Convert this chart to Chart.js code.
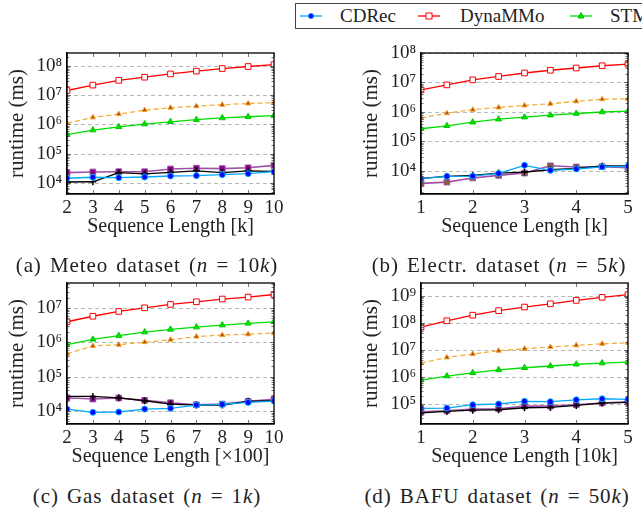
<!DOCTYPE html>
<html>
<head>
<meta charset="utf-8">
<script src="https://cdn.jsdelivr.net/npm/chart.js@4"></script>
<style>
  html, body { margin: 0; padding: 0; background: #fff; }
  body { width: 642px; height: 515px; position: relative; overflow: hidden;
         font-family: 'Liberation Serif', serif; color: #222; }
  .panel { position: absolute; width: 288px; height: 200px; }
  .caption { position: absolute; font-size: 21px; letter-spacing: 0.9px; word-spacing: 2px;
             white-space: nowrap; transform: translateX(-50%); }
  #legend { position: absolute; left: 295px; top: 3px; width: 420px; height: 24px;
            border: 1.5px solid #444; }
  .lg { position: absolute; top: 1px; font-size: 19px; white-space: nowrap; }
  .lgs { position: absolute; top: 6px; }
</style>
</head>
<body>
<div id="legend">
  <svg class="lgs" style="left:4px" width="22" height="12"><line x1="0" y1="6" x2="22" y2="6" stroke="#00a8ff" stroke-width="1.3"/><circle cx="11" cy="6" r="2.6" fill="#0000ff" stroke="#00a8ff"/></svg>
  <span class="lg" style="left:44px">CDRec</span>
  <svg class="lgs" style="left:122px" width="22" height="12"><line x1="0" y1="6" x2="22" y2="6" stroke="#ff0000" stroke-width="1.3"/><rect x="8" y="3" width="6" height="6" fill="#fff" stroke="#ff0000"/></svg>
  <span class="lg" style="left:164px">DynaMMo</span>
  <svg class="lgs" style="left:274px" width="22" height="12"><line x1="0" y1="6" x2="22" y2="6" stroke="#00e000" stroke-width="1.3"/><polygon points="11,2.5 14,8 8,8" fill="#00e000" stroke="#00c000"/></svg>
  <span class="lg" style="left:314px">STMVL</span>
</div>

<div class="panel" style="left:0px; top:40px"><canvas id="meteo"></canvas></div>
<div class="panel" style="left:354px; top:40px"><canvas id="electr"></canvas></div>
<div class="panel" style="left:0px; top:270px"><canvas id="gas"></canvas></div>
<div class="panel" style="left:354px; top:270px"><canvas id="bafu"></canvas></div>

<div class="caption" style="left:147px; top:253px">(a) Meteo dataset (<i>n</i> = 10<i>k</i>)</div>
<div class="caption" style="left:499px; top:253px">(b) Electr. dataset (<i>n</i> = 5<i>k</i>)</div>
<div class="caption" style="left:147px; top:484px">(c) Gas dataset (<i>n</i> = 1<i>k</i>)</div>
<div class="caption" style="left:497px; top:484px">(d) BAFU dataset (<i>n</i> = 50<i>k</i>)</div>

<script>
// x values (sequence length)
const meteoX = [2, 3, 4, 5, 6, 7, 8, 9, 10];
const electrX = [1, 1.5, 2, 2.5, 3, 3.5, 4, 4.5, 5];
const gasX = [2, 3, 4, 5, 6, 7, 8, 9, 10];
const bafuX = [1, 1.5, 2, 2.5, 3, 3.5, 4, 4.5, 5];

// runtime in ms
const meteoCDRec = [1.45e4, 1.57e4, 1.52e4, 1.6e4, 1.73e4, 1.78e4, 1.92e4, 2.08e4, 2.43e4];
const meteoDynaMMo = [1.44e7, 2.2e7, 3.2e7, 4.1e7, 5.3e7, 6.6e7, 8.1e7, 9.5e7, 1.1e8];
const meteoSTMVL = [4.5e5, 6.4e5, 8.3e5, 1.03e6, 1.23e6, 1.45e6, 1.66e6, 1.83e6, 2.0e6];
const meteoOrange = [1.11e6, 1.74e6, 2.25e6, 3.1e6, 3.7e6, 4.2e6, 4.7e6, 5.2e6, 5.5e6];
const meteoPurple = [2.25e4, 2.37e4, 2.43e4, 2.43e4, 3.0e4, 3.2e4, 3.1e4, 3.3e4, 4.0e4];
const meteoBlack = [1.08e4, 1.1e4, 2.25e4, 2.03e4, 2.3e4, 2.6e4, 2.25e4, 2.57e4, 2.5e4];

const electrCDRec = [5.5e3, 6.6e3, 6.7e3, 8.3e3, 1.56e4, 1.05e4, 1.17e4, 1.37e4, 1.45e4];
const electrDynaMMo = [5.6e6, 8.3e6, 1.23e7, 1.6e7, 2.1e7, 2.6e7, 3.1e7, 3.7e7, 4.2e7];
const electrSTMVL = [2.7e5, 3.4e5, 4.5e5, 5.7e5, 6.7e5, 7.8e5, 8.9e5, 1.0e6, 1.07e6];
const electrOrange = [6.3e5, 9.1e5, 1.2e6, 1.43e6, 1.67e6, 1.9e6, 2.3e6, 2.7e6, 2.8e6];
const electrPurple = [3.8e3, 4.2e3, 5.8e3, 7.1e3, 8.5e3, 1.5e4, 1.37e4, 1.4e4, 1.3e4];
const electrBlack = [5.6e3, 6.6e3, 7.1e3, 8.5e3, 9.2e3, 1.1e4, 1.23e4, 1.48e4, 1.48e4];

const gasCDRec = [1.14e4, 9.2e3, 9.4e3, 1.14e4, 1.2e4, 1.5e4, 1.57e4, 1.79e4, 1.96e4];
const gasDynaMMo = [4.0e6, 5.8e6, 8.0e6, 1.02e7, 1.28e7, 1.53e7, 1.84e7, 2.1e7, 2.5e7];
const gasSTMVL = [8.6e5, 1.23e6, 1.58e6, 2.0e6, 2.4e6, 2.8e6, 3.2e6, 3.6e6, 4.0e6];
const gasOrange = [4.7e5, 7.9e5, 8.6e5, 1.02e6, 1.2e6, 1.48e6, 1.65e6, 1.73e6, 1.9e6];
const gasPurple = [2.44e4, 2.24e4, 2.4e4, 2.05e4, 1.75e4, 1.53e4, 1.6e4, 1.92e4, 2.2e4];
const gasBlack = [2.68e4, 2.68e4, 2.44e4, 2.0e4, 1.6e4, 1.5e4, 1.5e4, 1.92e4, 2.0e4];

const bafuCDRec = [6.8e4, 6.9e4, 9.2e4, 9.8e4, 1.23e5, 1.19e5, 1.4e5, 1.53e5, 1.45e5];
const bafuDynaMMo = [6.9e7, 1.18e8, 1.9e8, 2.8e8, 3.8e8, 5.0e8, 6.7e8, 8.7e8, 1.09e9];
const bafuSTMVL = [7.5e5, 1.06e6, 1.4e6, 1.8e6, 2.15e6, 2.5e6, 2.9e6, 3.2e6, 3.5e6];
const bafuOrange = [3.2e6, 5.2e6, 6.9e6, 9.2e6, 1.09e7, 1.26e7, 1.45e7, 1.66e7, 1.8e7];
const bafuPurple = [5.0e4, 5.5e4, 6.4e4, 6.5e4, 8.2e4, 8.2e4, 9.2e4, 1.06e5, 1.19e5];
const bafuBlack = [4.6e4, 5.2e4, 5.8e4, 6.0e4, 7.1e4, 7.3e4, 8.7e4, 1.06e5, 1.13e5];

Chart.defaults.font.family = "'Liberation Serif', serif";
Chart.defaults.font.size = 19;
Chart.defaults.color = '#222';

const SUP = { '0': '⁰', '1': '¹', '2': '²', '3': '³', '4': '⁴', '5': '⁵', '6': '⁶', '7': '⁷', '8': '⁸', '9': '⁹' };
const pow10 = v => '10' + String(Math.round(Math.log10(v))).split('').map(c => SUP[c]).join('');

// dashed decade grid, frame and small inward tick marks (pgfplots look)
const framePlugin = {
    id: 'frame',
    beforeDatasetsDraw(chart) {
        const { ctx, chartArea: a, scales: { y } } = chart;
        ctx.save();
        ctx.strokeStyle = '#b8b8b8';
        ctx.lineWidth = 1.2;
        ctx.setLineDash([4, 3]);
        y.ticks.forEach(t => {
            const py = Math.round(y.getPixelForValue(t.value)) + 0.5;
            ctx.beginPath();
            ctx.moveTo(a.left, py);
            ctx.lineTo(a.right, py);
            ctx.stroke();
        });
        ctx.restore();
    },
    afterDraw(chart) {
        const { ctx, chartArea: a, scales: { x, y } } = chart;
        ctx.save();
        ctx.strokeStyle = '#555';
        ctx.lineWidth = 0.8;
        const lo = Math.floor(Math.log10(y.min)), hi = Math.ceil(Math.log10(y.max));
        for (let e = lo; e <= hi; e++) {
            for (let m = 1; m < 10; m++) {
                const v = m * Math.pow(10, e);
                if (v < y.min || v > y.max) continue;
                const py = Math.round(y.getPixelForValue(v)) + 0.5;
                const len = m === 1 ? 4 : 2.5;
                ctx.beginPath();
                ctx.moveTo(a.left, py); ctx.lineTo(a.left + len, py);
                ctx.moveTo(a.right, py); ctx.lineTo(a.right - len, py);
                ctx.stroke();
            }
        }
        x.ticks.forEach(t => {
            const px = Math.round(x.getPixelForValue(t.value)) + 0.5;
            ctx.beginPath();
            ctx.moveTo(px, a.bottom); ctx.lineTo(px, a.bottom - 4);
            ctx.moveTo(px, a.top); ctx.lineTo(px, a.top + 4);
            ctx.stroke();
        });
        ctx.strokeStyle = '#000';
        ctx.lineWidth = 1.3;
        ctx.strokeRect(a.left, a.top, a.width, a.height);
        ctx.restore();
    }
};

function series(xs, ys, style) {
    return Object.assign({
        data: xs.map((x, i) => ({ x: x, y: ys[i] })),
        borderWidth: 1.3,
        pointBorderWidth: 1,
        pointHoverRadius: 0,
        tension: 0
    }, style);
}

function makeChart(id, xs, d, cfg) {
    const ctx = document.getElementById(id).getContext('2d');
    return new Chart(ctx, {
        type: 'line',
        data: {
            datasets: [
                series(xs, d.cdrec, { label: 'CDRec', borderColor: '#00a8ff', pointStyle: 'circle', pointRadius: 3, pointBackgroundColor: '#0000ff', pointBorderColor: '#00b4ff' }),
                series(xs, d.black, { label: 'black', borderColor: '#000', pointStyle: 'cross', pointRadius: 3.5, pointBorderColor: '#000', pointBorderWidth: 1.5 }),
                series(xs, d.purple, { label: 'purple', borderColor: '#a050a8', borderWidth: 1.6, pointStyle: 'rect', pointRadius: 4, pointBackgroundColor: cfg.purpleFill || '#800080', pointBorderColor: '#a050a8' }),
                series(xs, d.stmvl, { label: 'STMVL', borderColor: '#00e000', pointStyle: 'triangle', pointRadius: 3.5, pointBackgroundColor: '#00e000', pointBorderColor: '#00c800' }),
                series(xs, d.orange, { label: 'orange', borderColor: '#f0b040', borderDash: [5, 3], pointStyle: 'triangle', pointRadius: 3, pointBackgroundColor: '#b84a00', pointBorderColor: '#f0a030' }),
                series(xs, d.dynammo, { label: 'DynaMMo', borderColor: '#ff0000', pointStyle: 'rect', pointRadius: 4, pointBackgroundColor: '#fff', pointBorderColor: '#ff0000' })
            ]
        },
        options: {
            responsive: true,
            maintainAspectRatio: false,
            animation: false,
            layout: { padding: { top: 13, right: 14, left: 0, bottom: 0 } },
            plugins: { legend: { display: false }, tooltip: { enabled: false } },
            scales: {
                x: {
                    type: 'linear',
                    min: cfg.xMin,
                    max: cfg.xMax,
                    grid: { display: false, drawTicks: false },
                    border: { display: true, color: '#000', width: 1.3 },
                    ticks: { stepSize: 1, autoSkip: false, maxRotation: 0, padding: 3, color: '#222' },
                    title: { display: true, text: cfg.xTitle, font: { size: 20 }, padding: { top: 0, bottom: 1 }, color: '#222' },
                    afterFit(s) { s.height = 46; s.paddingLeft = 0; s.paddingRight = 0; }
                },
                y: {
                    type: 'logarithmic',
                    min: cfg.yMin,
                    max: cfg.yMax,
                    grid: { display: false, drawTicks: false },
                    border: { display: true, color: '#000', width: 1.3 },
                    ticks: { padding: 5, color: '#222', callback: v => pow10(v) },
                    title: { display: true, text: 'runtime (ms)', font: { size: 21 }, padding: { top: 5, bottom: 0 }, color: '#222' },
                    afterBuildTicks(s) {
                        const t = [];
                        for (let e = Math.ceil(Math.log10(s.min)); Math.pow(10, e) <= s.max * 1.0001; e++) t.push({ value: Math.pow(10, e) });
                        s.ticks = t;
                    },
                    afterFit(s) { s.width = 67; s.paddingTop = 0; s.paddingBottom = 0; }
                }
            }
        },
        plugins: [framePlugin]
    });
}

makeChart('meteo', meteoX,
    { cdrec: meteoCDRec, dynammo: meteoDynaMMo, stmvl: meteoSTMVL, orange: meteoOrange, purple: meteoPurple, black: meteoBlack },
    { xMin: 2, xMax: 10, yMin: 4200, yMax: 2.75e8, xTitle: 'Sequence Length [k]' });
makeChart('electr', electrX,
    { cdrec: electrCDRec, dynammo: electrDynaMMo, stmvl: electrSTMVL, orange: electrOrange, purple: electrPurple, black: electrBlack },
    { xMin: 1, xMax: 5, yMin: 1660, yMax: 1e8, xTitle: 'Sequence Length [k]', purpleFill: '#8a5a40' });
makeChart('gas', gasX,
    { cdrec: gasCDRec, dynammo: gasDynaMMo, stmvl: gasSTMVL, orange: gasOrange, purple: gasPurple, black: gasBlack },
    { xMin: 2, xMax: 10, yMin: 4200, yMax: 5.4e7, xTitle: 'Sequence Length [×100]' });
makeChart('bafu', bafuX,
    { cdrec: bafuCDRec, dynammo: bafuDynaMMo, stmvl: bafuSTMVL, orange: bafuOrange, purple: bafuPurple, black: bafuBlack },
    { xMin: 1, xMax: 5, yMin: 17800, yMax: 2.95e9, xTitle: 'Sequence Length [10k]' });
</script>
</body>
</html>
